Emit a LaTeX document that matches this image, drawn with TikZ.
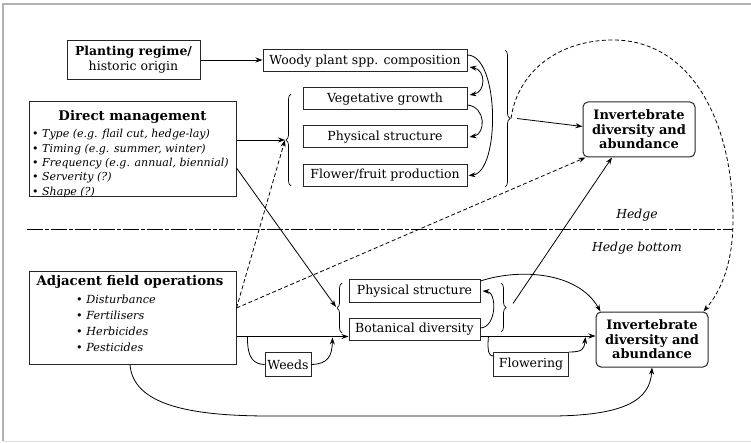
\documentclass[tikz,border=0pt]{standalone}
\usepackage{fontspec}
\setmainfont{DejaVu Serif}
\usetikzlibrary{arrows.meta,decorations.pathreplacing,calc}
\begin{document}
\begin{tikzpicture}[x=1pt,y=-1pt,
  box/.style={draw=black!85, line width=1pt, inner sep=0pt, align=center, font=\fontsize{12.5}{14}\selectfont},
  ibox/.style={box, rounded corners=5pt, font=\fontsize{13}{14.5}\selectfont\bfseries},
  ttl/.style={font=\fontsize{13.3}{15}\selectfont\bfseries, inner sep=0pt},
  items/.style={font=\fontsize{11}{14.4}\selectfont, align=left, inner sep=0pt, anchor=west},
  lab/.style={font=\fontsize{12.4}{14}\selectfont\itshape, inner sep=0pt},
  arr/.style={-{Stealth[length=7pt,width=5pt]}, line width=0.8pt},
  dbl/.style={{Stealth[length=7pt,width=5pt]}-{Stealth[length=7pt,width=5pt]}, line width=0.8pt},
  ln/.style={line width=0.8pt},
  brc/.style={decorate, decoration={brace, amplitude=5pt}, line width=0.7pt},
  dsh/.style={dash pattern=on 4pt off 2.5pt},
  hline/.style={line width=0.8pt, dash pattern=on 16pt off 2pt on 4pt off 2pt}
]
\useasboundingbox (0,0) rectangle (751,443);
% frame
\draw[gray!60, line width=1.2pt] (751,4) -- (3,4) -- (3,441);
\draw[gray!25, line width=0.8pt] (3,441) -- (751,441);

% top nodes
\node[box, minimum width=133, minimum height=39, font=\fontsize{12.5}{15}\selectfont] (plant) at (133.5,60) {{\fontsize{12.4}{15}\selectfont\bfseries Planting regime/}\\historic origin};
\node[box, minimum width=204, minimum height=22] (woody) at (365,61) {Woody plant spp. composition};
\node[box, minimum width=164, minimum height=22] (veg) at (385,99) {Vegetative growth};
\node[box, minimum width=164, minimum height=22] (physt) at (385,137) {Physical structure};
\node[box, minimum width=164, minimum height=22] (flow) at (385,175.5) {Flower/fruit production};

\node[box, minimum width=207, minimum height=95] (dm) at (132.5,149.5) {};
\node[ttl] (dmt) at (132.5,117) {Direct management};
\node[items] (dmi) at (32,163.5) {•~\textit{Type (e.g. flail cut, hedge-lay)}\\•~\textit{Timing (e.g. summer, winter)}\\•~\textit{Frequency (e.g. annual, biennial)}\\•~\textit{Serverity (?)}\\•~\textit{Shape (?)}};

\node[ibox, minimum width=112, minimum height=55] (invt) at (639,129.5) {Invertebrate\\diversity and\\abundance};

% braces
\draw[brc] (291,186) -- (291,94);
\coordinate (ltip) at (285,140);
\draw[brc] (505,50) -- (505,187);
\coordinate (rtip) at (511,118.5);

% hedge line
\draw[hline] (27,229) -- (733,229);
\node[lab] (hedge) at (637,215) {Hedge};
\node[lab] (hbot) at (637,248) {Hedge bottom};

% bottom nodes
\node[box, minimum width=207, minimum height=93] (adj) at (132.5,317.5) {};
\node[ttl] (adjt) at (130,282) {Adjacent field operations};
\node[items, font=\fontsize{11.2}{16}\selectfont] (adji) at (76,323) {•~\textit{Disturbance}\\•~\textit{Fertilisers}\\•~\textit{Herbicides}\\•~\textit{Pesticides}};

\node[box, minimum width=131, minimum height=23] (physb) at (414.5,291) {Physical structure};
\node[box, minimum width=131, minimum height=22] (bot) at (414.5,329) {Botanical diversity};
\node[box, minimum width=46, minimum height=24] (weeds) at (288,364.5) {Weeds};
\node[box, minimum width=75, minimum height=24] (flw) at (531,364.5) {Flowering};
\node[ibox, minimum width=112, minimum height=55] (invb) at (652,339.5) {Invertebrate\\diversity and\\abundance};

\draw[brc] (342,333) -- (342,283);
\coordinate (lbtip) at (336,307);
\draw[brc] (501,283) -- (501,332);
\coordinate (rbtip) at (507,307.5);

% top connectors
\draw[arr] (plant.east) -- (plant.east -| woody.west);
\draw[arr] (dm.east |- ltip) -- (ltip);
\draw[arr] ($(woody.east)+(0,-6)$) .. controls (500,56) and (500,172) .. ($(flow.east)+(1,0)$);
\draw[dbl] ($(woody.east)+(2,6)$) .. controls (486,70) and (486,92) .. ($(veg.east)+(2,-4)$);
\draw[arr] ($(veg.east)+(0,6)$) .. controls (486,107) and (486,134) .. ($(physt.east)+(2,0)$);
\draw[arr] ($(rtip)+(6,0)$) -- ($(invt.west)+(0,-3)$);
\draw[arr, dsh] (rtip) .. controls (518,70) and (560,40) .. (613,40) .. controls (690,40) and (733,120) .. (733,220) .. controls (733,265) and (720,292) .. ($(invb.north east)+(-5,0)$);

% cross connectors
\coordinate (adjd) at ($(adj.east)+(0,-9.5)$);
\draw[arr, dsh] (adjd) -- (ltip);
\draw[arr, dsh] (adjd) -- ($(invt.south west)+(3,0)$);
\draw[arr] ($(dm.east)+(0,18.5)$) -- (lbtip);
\draw[arr] ($(rbtip)+(6,-4)$) -- ($(invt.south)+(-27,0)$);

% bottom connectors
\coordinate (adjl) at ($(adj.east)+(0,19)$);
\draw[arr] (adjl) -- (adjl -| bot.west);
\draw[ln] ($(adjl)+(11,0)$) .. controls (247,360) and (255,364) .. (weeds.west);
\draw[arr] (weeds.east) .. controls (328,364) and (332,356) .. ($(adjl)+(96,1)$);
\draw[arr] ($(bot.east)+(0,-1)$) .. controls (497,327) and (497,292) .. ($(physb.east)+(2,0)$);
\draw[arr] ($(physb.north east)+(0,2)$) .. controls (520,268) and (578,272) .. ($(invb.north west)+(5,0)$);
\coordinate (botl) at ($(bot.east)+(0,7)$);
\draw[arr] (botl) -- (botl -| invb.west);
\draw[ln] ($(botl)+(8,0)$) .. controls (487,352) and (489,356) .. ($(flw.north west)+(0,4)$);
\draw[arr] (flw.north east) .. controls (583,352) and (584,349) .. ($(botl)+(105,1)$);
\draw[arr] (adj.south -| 130,0) .. controls (133,405) and (190,416) .. (270,416) -- (555,416) .. controls (625,415) and (650,400) .. (invb.south);
\end{tikzpicture}
\end{document}
